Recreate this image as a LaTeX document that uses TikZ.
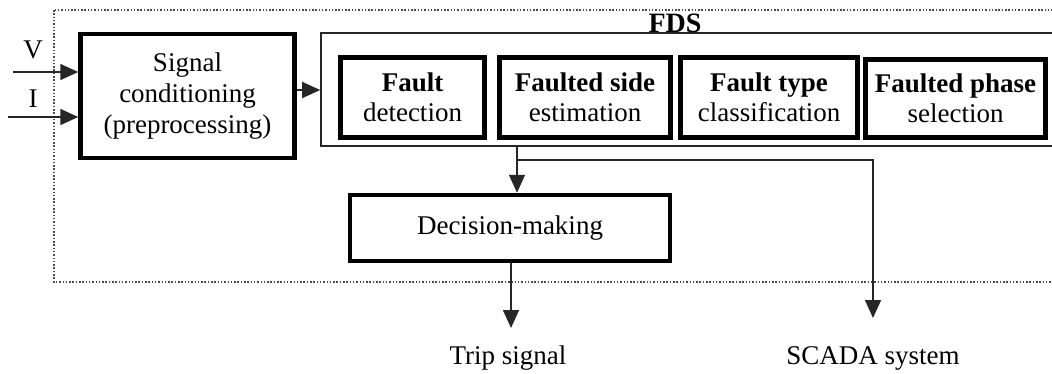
\documentclass[tikz,border=0pt]{standalone}
\usepackage{fontspec}
\setmainfont{Liberation Serif}
\usetikzlibrary{arrows.meta}
\begin{document}
\begin{tikzpicture}[x=1pt,y=-1pt,
  every node/.style={font=\fontsize{27}{30}\selectfont},
  thickbox/.style={draw=black, line width=5pt, inner sep=0pt, align=center},
  thinbox/.style={draw=black!85, line width=1.6pt, inner sep=0pt},
  conn/.style={draw=black!85, line width=1.6pt},
  arr/.style={conn, -{Triangle[length=18pt,width=16pt]}},
  dotbox/.style={draw=black!70, line width=1.2pt, dash pattern=on 1.5pt off 1.8pt},
  lbl/.style={inner sep=0pt}
]
\useasboundingbox (0,0) rectangle (1052,373);
% outer dotted frame
\draw[dotbox] (54,10) rectangle (1075,282);
% signal conditioning
\node[thickbox, line width=4.5pt, minimum width=214pt, minimum height=124pt,
      font=\fontsize{27}{31}\selectfont] (sig) at (187.5,96)
  {Signal\\conditioning\\(preprocessing)};
% FDS frame
\node[thinbox, minimum width=745pt, minimum height=113pt] (fds) at (693.5,89.5) {};
\node[lbl, font=\fontsize{28}{30}\selectfont\bfseries] (fdslbl) at (675,23) {FDS};
% inner boxes
\node[thickbox, minimum width=144pt, minimum height=80pt] (fd) at (412.5,97.5)
  {\textbf{Fault}\\detection};
\node[thickbox, minimum width=171pt, minimum height=80pt] (fse) at (585,97)
  {\textbf{Faulted side}\\estimation};
\node[thickbox, minimum width=177pt, minimum height=80pt] (ftc) at (769,97.5)
  {\textbf{Fault type}\\classification};
\node[thickbox, minimum width=180pt, minimum height=78pt] (fps) at (955.5,98.5)
  {\textbf{Faulted phase}\\selection};
% decision
\node[thickbox, line width=4.5pt, minimum width=320pt, minimum height=66pt] (dec) at (510,228)
  {Decision-making};
% outputs
\node[lbl] (trip) at (508,358) {Trip signal};
\node[lbl] (scada) at (873,358) {SCADA system};
% inputs
\node[lbl] (vlbl) at (33,50) {V};
\node[lbl] (ilbl) at (33,99) {I};
\coordinate (vin) at (13,72);
\coordinate (iin) at (8,117);
\coordinate (sf) at (309,90);
\coordinate (branch) at (517,160);
\coordinate (tripend) at (511,328);
\coordinate (scadaend) at (873,318);
% connectors
\draw[arr] (vin) -- (sig.west |- vin);
\draw[arr] (iin) -- (sig.west |- iin);
\draw[arr] (sig.east |- sf) -- (fds.west |- sf);
\draw[arr] (branch |- fds.south) -- (branch |- dec.north);
\draw[arr] (branch) -| (scadaend);
\draw[arr] (dec.south -| tripend) -- (tripend);
\end{tikzpicture}
\end{document}
